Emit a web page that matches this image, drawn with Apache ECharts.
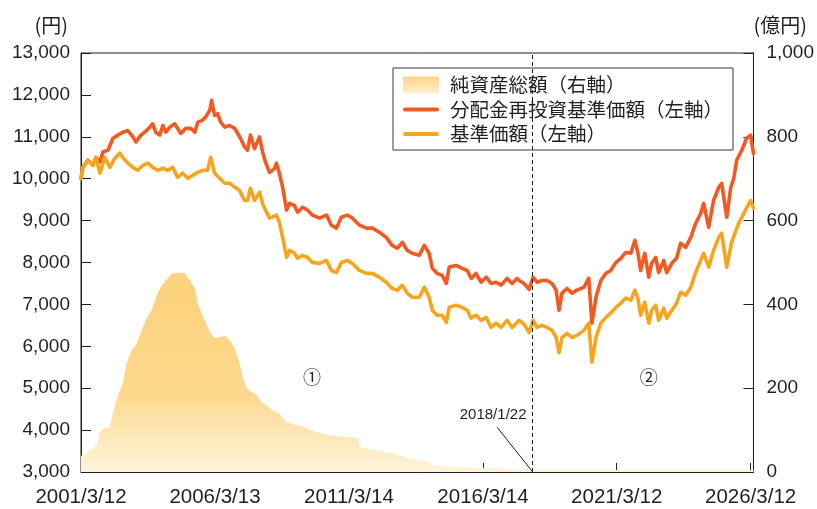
<!DOCTYPE html>
<html>
<head>
<meta charset="utf-8">
<script src="https://cdn.jsdelivr.net/npm/echarts@6/dist/echarts.min.js"></script>
<style>html,body{margin:0;padding:0;background:#fff}#c{width:817px;height:509px}</style>
</head>
<body>
<div id="c"></div>
<script>
// ---- data (dates as decimal years) ----
const xTickLabels = ['2001/3/12','2006/3/13','2011/3/14','2016/3/14','2021/3/12','2026/3/12'];
const leftTicks = [3000,4000,5000,6000,7000,8000,9000,10000,11000,12000,13000];
const rightTicks = [0,200,400,600,800,1000];

const reinvestDates = [2001.19,2001.26,2001.45,2001.64,2001.75,2001.90,2002.01,2002.20,2002.38,2002.57,
2002.75,2002.94,2003.13,2003.24,2003.43,2003.57,2003.76,2003.87,2003.98,2004.13,
2004.25,2004.36,2004.51,2004.69,2004.80,2004.92,2005.10,2005.29,2005.44,2005.55,
2005.74,2005.85,2006.00,2006.07,2006.18,2006.29,2006.41,2006.56,2006.74,2006.93,
2007.04,2007.15,2007.30,2007.41,2007.52,2007.67,2007.86,2007.97,2008.08,2008.23,
2008.42,2008.49,2008.60,2008.72,2008.87,2008.98,2009.16,2009.28,2009.46,2009.65,
2009.83,2010.10,2010.36,2010.54,2010.73,2010.91,2011.14,2011.32,2011.59,2011.85,
2012.07,2012.33,2012.59,2012.81,2013.00,2013.19,2013.37,2013.56,2013.82,2014.01,
2014.19,2014.31,2014.49,2014.68,2014.83,2014.94,2015.20,2015.42,2015.61,2015.76,
2015.94,2016.13,2016.32,2016.50,2016.69,2016.88,2017.10,2017.29,2017.47,2017.55,
2017.73,2017.92,2018.07,2018.22,2018.40,2018.59,2018.78,2018.93,2019.04,2019.15,
2019.34,2019.52,2019.71,2019.97,2020.15,2020.27,2020.42,2020.60,2020.79,2020.97,
2021.16,2021.35,2021.53,2021.72,2021.87,2021.98,2022.09,2022.24,2022.39,2022.50,
2022.65,2022.76,2022.95,2023.06,2023.25,2023.43,2023.58,2023.77,2023.96,2024.14,
2024.33,2024.44,2024.63,2024.81,2025.00,2025.11,2025.30,2025.45,2025.56,2025.67,
2025.86,2026.04,2026.19,2026.30];
const reinvestValues = [10000,10270,10440,10320,10510,10400,10640,10680,10960,11040,
11110,11150,11000,10880,11040,11110,11230,11310,11110,11040,
11270,11110,11230,11310,11200,11080,11200,11200,11110,11350,
11400,11480,11630,11870,11510,11550,11350,11230,11270,11200,
11080,10960,10760,10680,11040,10720,11000,10640,10400,10150,
10240,10370,10130,9800,9250,9410,9360,9200,9320,9250,
9130,9060,9130,8890,8820,9080,9130,9060,8890,8820,
8820,8720,8600,8410,8340,8480,8290,8220,8170,8410,
8220,7860,7740,7690,7500,7890,7930,7860,7810,7620,
7740,7530,7650,7500,7530,7460,7620,7500,7620,7570,
7500,7360,7650,7530,7570,7570,7500,7340,6860,7270,
7380,7270,7340,7410,7620,6550,7170,7570,7740,7810,
8000,8100,8240,8220,8530,8240,7810,8220,7650,7980,
8120,7760,8050,7760,7980,8100,8460,8360,8600,8930,
9170,9410,8840,9480,9790,9890,9080,9790,10000,10440,
10680,10960,11040,10600];

const priceDates = [2001.19,2001.26,2001.45,2001.64,2001.75,2001.90,2002.08,2002.27,2002.46,2002.64,
2002.75,2002.94,2003.13,2003.31,2003.50,2003.69,2003.87,2004.06,2004.25,2004.43,
2004.62,2004.80,2004.99,2005.18,2005.36,2005.55,2005.74,2005.92,2006.03,2006.18,
2006.37,2006.56,2006.74,2006.93,2007.11,2007.30,2007.41,2007.52,2007.67,2007.86,
2007.97,2008.08,2008.23,2008.49,2008.60,2008.72,2008.87,2008.98,2009.16,2009.28,
2009.46,2009.65,2009.83,2010.10,2010.36,2010.54,2010.73,2010.91,2011.14,2011.32,
2011.59,2011.85,2012.07,2012.33,2012.59,2012.81,2013.00,2013.19,2013.37,2013.56,
2013.82,2014.01,2014.19,2014.31,2014.49,2014.68,2014.83,2014.94,2015.20,2015.42,
2015.61,2015.76,2015.94,2016.13,2016.32,2016.50,2016.69,2016.88,2017.10,2017.29,
2017.47,2017.55,2017.73,2017.92,2018.07,2018.22,2018.40,2018.59,2018.78,2018.93,
2019.04,2019.15,2019.34,2019.52,2019.71,2019.97,2020.15,2020.27,2020.42,2020.60,
2020.79,2020.97,2021.16,2021.35,2021.53,2021.72,2021.87,2021.98,2022.09,2022.24,
2022.39,2022.50,2022.65,2022.76,2022.95,2023.06,2023.25,2023.43,2023.58,2023.77,
2023.96,2024.14,2024.33,2024.44,2024.63,2024.81,2025.00,2025.11,2025.30,2025.48,
2025.74,2026.00,2026.19,2026.30];
const priceValues = [10000,10270,10440,10320,10510,10130,10510,10270,10490,10610,
10510,10370,10270,10200,10320,10370,10270,10200,10250,10200,
10270,10030,10130,10010,10080,10150,10200,10200,10510,10130,
10010,9890,9890,9800,9720,9480,9480,9770,9480,9680,
9410,9250,9060,9130,8960,8600,8120,8290,8220,8100,
8170,8120,8000,7980,8050,7810,7760,8000,8050,7980,
7810,7740,7740,7650,7530,7380,7340,7460,7270,7170,
7170,7410,7170,6860,6740,6740,6570,6930,6980,6930,
6860,6670,6740,6620,6690,6450,6550,6450,6620,6450,
6570,6620,6530,6330,6620,6450,6500,6450,6380,6210,
5850,6210,6310,6210,6260,6380,6550,5620,6210,6550,
6690,6790,6930,7030,7150,7100,7340,7150,6740,7050,
6550,6860,6980,6620,6910,6670,6860,7030,7290,7220,
7410,7760,8050,8220,7890,8290,8600,8700,7890,8480,
8930,9250,9480,9300];

const assetDates = [2001.19,2001.53,2001.79,2001.82,2001.90,2002.08,2002.27,2002.38,2002.57,2002.75,
2002.90,2003.09,2003.28,2003.46,2003.65,2003.84,2004.02,2004.21,2004.39,2004.58,
2004.77,2004.95,2005.06,2005.25,2005.44,2005.55,2005.70,2005.81,2006.00,2006.18,
2006.37,2006.56,2006.74,2006.93,2007.11,2007.23,2007.38,2007.56,2007.75,2007.93,
2008.12,2008.31,2008.53,2008.87,2009.24,2009.61,2009.98,2010.47,2010.95,2011.55,
2011.58,2012.22,2012.81,2013.45,2014.19,2014.22,2015.20,2016.17,2017.17,2018.07,
2020.00,2022.00,2024.00,2026.30];
const assetValues = [38,52,64,68,95,105,105,141,184,212,
260,291,308,339,368,387,422,446,458,473,
475,475,475,458,439,403,379,363,334,320,
322,325,315,296,260,227,200,191,184,167,
160,148,143,119,112,105,95,88,84,81,
60,52,45,33,24,17,12,10,7,5,
5,5,5,5];

const seriesNames = ['純資産総額（右軸）','分配金再投資基準価額（左軸）','基準価額（左軸）'];
const markerDate = '2018/1/22';
const circleLabels = ['①','②'];

// ---- helpers ----
function ts(t){ const y = Math.floor(t); return Date.UTC(y,0,1) + (t - y) * 365.25 * 864e5; }
function dts(s){ const p = s.split('/'); return Date.UTC(+p[0], +p[1]-1, +p[2]); }
function pairs(d, v){ return d.map((t,i)=>[ts(t), v[i]]); }
function fmtDate(v){ const d = new Date(v); return d.getUTCFullYear()+'/'+(d.getUTCMonth()+1)+'/'+d.getUTCDate(); }
function fmtNum(v){ return Number(v).toLocaleString('en-US'); }

const NUM = '"Liberation Sans", Arial, Helvetica, sans-serif';
const JP = '"Noto Sans CJK JP", "Noto Sans", sans-serif';
const INK = '#231F20';
const RED = '#F15A22';
const ORANGE = '#F7A51E';

const areaGrad = new echarts.graphic.LinearGradient(0,0,0,1,[
  {offset:0, color:'#FCD27A'},{offset:0.6, color:'#FDD88C'},{offset:1, color:'#FEF4DC'}]);
const legendGrad = new echarts.graphic.LinearGradient(0,0,0,1,[
  {offset:0, color:'#FDD486'},{offset:1, color:'#FEF0D2'}]);
const lineIcon = 'path://M2,0 L34,0 A2,2 0 0 1 34,4 L2,4 A2,2 0 0 1 2,0 Z';

const xTicks = xTickLabels.map(dts);
const tMarker = dts(markerDate);

const chart = echarts.init(document.getElementById('c'), null, {renderer:'canvas'});
chart.setOption({
  animation:false,
  backgroundColor:'#fff',
  grid:{left:81, right:62, top:53, bottom:37, show:true, borderColor:INK, borderWidth:1},
  legend:{
    orient:'vertical', left:393, top:68,
    backgroundColor:'#fff', borderColor:'#3a3a3a', borderWidth:1, borderRadius:0,
    padding:[7,10,6,10], itemGap:4.5, itemWidth:36, itemHeight:17,
    textStyle:{fontFamily:JP, fontSize:19.5, color:INK, lineHeight:20, padding:[0,0,0,6]},
    data:[
      {name:seriesNames[0], icon:'rect', itemStyle:{color:legendGrad, borderWidth:0}},
      {name:seriesNames[1], icon:lineIcon, itemStyle:{color:RED, borderWidth:0}},
      {name:seriesNames[2], icon:lineIcon, itemStyle:{color:ORANGE, borderWidth:0}}
    ]
  },
  xAxis:{
    type:'value', min:xTicks[0], max:Date.UTC(2026,3,20), scale:true,
    axisLine:{show:true, lineStyle:{color:INK, width:1}},
    axisTick:{show:true, inside:true, length:9, customValues:xTicks, lineStyle:{color:INK}},
    axisLabel:{customValues:xTicks, formatter:fmtDate, fontFamily:NUM, fontSize:20.5, color:INK, margin:15},
    splitLine:{show:false}
  },
  yAxis:[
    {type:'value', position:'left', min:leftTicks[0], max:leftTicks[leftTicks.length-1], interval:1000,
     name:'(円)', nameLocation:'end', nameGap:18,
     nameTextStyle:{fontFamily:JP, fontSize:20, color:INK, align:'right', verticalAlign:'bottom', padding:[0,13,0,0]},
     axisLine:{show:true, lineStyle:{color:INK}},
     axisTick:{show:true, inside:true, length:10, lineStyle:{color:INK}},
     axisLabel:{formatter:fmtNum, fontFamily:NUM, fontSize:19, color:INK, margin:11},
     splitLine:{show:false}},
    {type:'value', position:'right', min:rightTicks[0], max:rightTicks[rightTicks.length-1], interval:200,
     name:'(億円)', nameLocation:'end', nameGap:18,
     nameTextStyle:{fontFamily:JP, fontSize:20, color:INK, align:'left', verticalAlign:'bottom', padding:[0,0,0,0]},
     axisLine:{show:true, lineStyle:{color:INK}},
     axisTick:{show:true, inside:true, length:10, lineStyle:{color:INK}},
     axisLabel:{formatter:fmtNum, fontFamily:NUM, fontSize:19, color:INK, margin:13},
     splitLine:{show:false}}
  ],
  series:[
    {name:seriesNames[0], type:'line', yAxisIndex:1, data:pairs(assetDates, assetValues),
     symbol:'none', showSymbol:false, silent:true, z:1,
     itemStyle:{color:'#FCD57F'}, lineStyle:{width:0}, areaStyle:{color:areaGrad, opacity:1}},
    {name:seriesNames[1], type:'line', yAxisIndex:0, data:pairs(reinvestDates, reinvestValues),
     symbol:'none', showSymbol:false, silent:true, z:3,
     itemStyle:{color:RED}, lineStyle:{color:RED, width:3.6, join:'round', cap:'round'}},
    {name:seriesNames[2], type:'line', yAxisIndex:0, data:pairs(priceDates, priceValues),
     symbol:'none', showSymbol:false, silent:true, z:4,
     itemStyle:{color:ORANGE}, lineStyle:{color:ORANGE, width:3.6, join:'round', cap:'round'},
     markLine:{silent:true, symbol:['none','none'], label:{show:false},
       data:[
         {xAxis:tMarker, lineStyle:{type:[4,3], color:INK, width:1}},
         [{coord:[ts(2016.73), 4067], lineStyle:{type:'solid', color:INK, width:1}},
          {coord:[tMarker, 3000], lineStyle:{type:'solid', color:INK, width:1}}]
       ]},
     markPoint:{silent:true, symbol:'circle', symbolSize:1, itemStyle:{color:'rgba(0,0,0,0)'},
       label:{show:true, position:'inside', color:INK},
       data:[
         {coord:[ts(2016.58), 4353], label:{formatter:markerDate, fontFamily:NUM, fontSize:15}},
         {coord:[ts(2009.82), 5260], label:{formatter:circleLabels[0], fontFamily:JP, fontSize:18}},
         {coord:[ts(2022.39), 5260], label:{formatter:circleLabels[1], fontFamily:JP, fontSize:18}}
       ]}}
  ]
});
</script>
</body>
</html>
